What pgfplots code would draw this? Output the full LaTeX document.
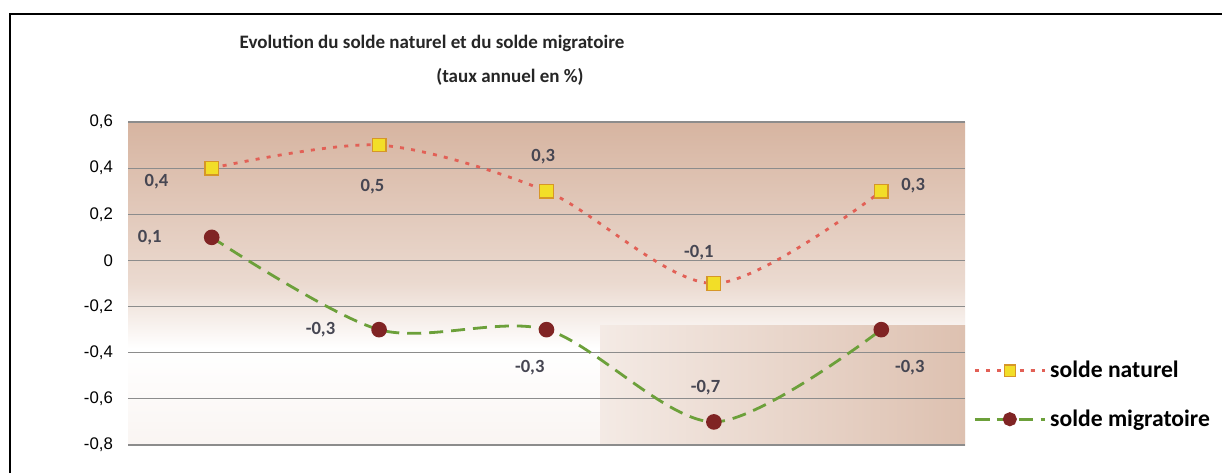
\documentclass[border=0pt]{standalone}
\usepackage{pgfplots}
\pgfplotsset{compat=1.18}
\usepackage{fontspec}
\setmainfont{Carlito}
\newfontfamily\arialf{Liberation Sans}
\definecolor{bgtan}{RGB}{210,172,150}
\definecolor{natline}{RGB}{226,96,86}
\definecolor{natfill}{RGB}{242,222,40}
\definecolor{natdraw}{RGB}{214,150,40}
\definecolor{migline}{RGB}{108,160,58}
\definecolor{migfill}{RGB}{128,36,36}
\definecolor{lbl}{RGB}{70,70,82}
\pgfdeclareverticalshading{bgshade}{100bp}{color(0bp)=(bgtan!12); color(25bp)=(bgtan!12); color(40bp)=(white); color(50bp)=(bgtan!45); color(75bp)=(bgtan!90); color(100bp)=(bgtan!90)}
\begin{document}
\begin{tikzpicture}
\useasboundingbox (0,0) rectangle (611pt,236.5pt);
\fill[white] (0,0) rectangle (611pt,236.5pt);
\shade[shading=bgshade] (64pt,14pt) rectangle (482.5pt,175.5pt);
\shade[left color=bgtan!25, right color=bgtan!75] (300pt,14pt) rectangle (482.5pt,74pt);
\draw[line width=0.8pt] (5pt,0) -- (5pt,229.5pt) -- (611pt,229.5pt);
\node[font=\bfseries\fontsize{9.5}{11}\selectfont, text=black!85] at (216pt,215pt) {Evolution du solde naturel et du solde migratoire};
\node[font=\bfseries\fontsize{9.5}{11}\selectfont, text=black!85] at (255pt,198pt) {(taux annuel en \%)};
\begin{axis}[
  at={(64pt,14pt)}, anchor=south west,
  scale only axis, width=418.5pt, height=161.5pt,
  xmin=-0.5, xmax=4.5, ymin=-0.8, ymax=0.6,
  xtick=\empty,
  ytick={-0.8,-0.6,-0.4,-0.2,0,0.2,0.4,0.6},
  ymajorgrids, grid style={line width=0.6pt, black!45},
  axis line style={draw=none},
  major tick length=0pt,
  yticklabel style={font=\arialf\fontsize{8.4}{10}\selectfont, xshift=-4pt},
  /pgf/number format/assume math mode=true,
  /pgf/number format/use comma, /pgf/number format/fixed,
  legend style={draw=none, fill=none, inner sep=0pt, at={(1.0096,0.155)}, anchor=west,
    font=\bfseries\fontsize{11.8}{14}\selectfont, row sep=10.5pt, cells={anchor=west}},
  legend image code/.code={\draw[mark repeat=2,mark phase=2,mark size=2.8pt] plot coordinates {(0pt,0pt) (17.5pt,0pt) (35pt,0pt)};},
  clip=false,
]
\addplot[natline, line width=1.4pt, dash pattern=on 2pt off 3.6pt, smooth, tension=0.5,
  mark=square*, mark size=3.4pt, mark options={solid, fill=natfill, draw=natdraw, line width=0.6pt}]
  coordinates {(0,0.4) (1,0.5) (2,0.3) (3,-0.1) (4,0.3)};
\addlegendentry{solde naturel}
\addplot[migline, line width=1.4pt, dash pattern=on 7pt off 4pt, smooth, tension=0.5,
  mark=*, mark size=3.2pt, mark options={solid, fill=migfill, draw=migfill}]
  coordinates {(0,0.1) (1,-0.3) (2,-0.3) (3,-0.7) (4,-0.3)};
\addlegendentry{solde migratoire}
\begin{scope}[every node/.style={font=\bfseries\fontsize{9.3}{10}\selectfont, text=lbl}]
\node at (axis cs:-0.33,0.34) {0,4};
\node at (axis cs:0.96,0.32) {0,5};
\node at (axis cs:1.98,0.45) {0,3};
\node at (axis cs:2.91,0.035) {-0,1};
\node at (axis cs:4.19,0.325) {0,3};
\node at (axis cs:-0.37,0.10) {0,1};
\node at (axis cs:0.65,-0.30) {-0,3};
\node at (axis cs:1.90,-0.465) {-0,3};
\node at (axis cs:2.95,-0.55) {-0,7};
\node at (axis cs:4.17,-0.465) {-0,3};
\end{scope}
\end{axis}
\end{tikzpicture}
\end{document}
